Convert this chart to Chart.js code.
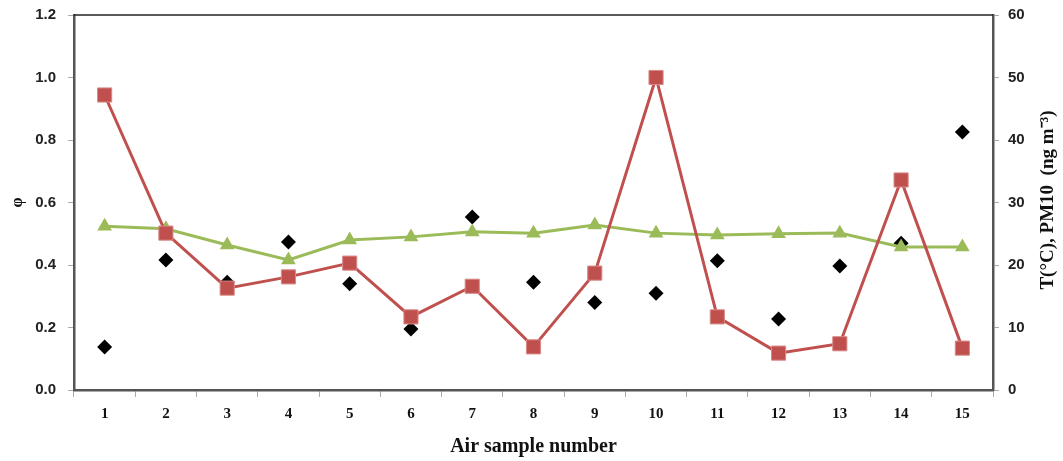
<!DOCTYPE html>
<html>
<head>
<meta charset="utf-8">
<script src="https://cdn.jsdelivr.net/npm/chart.js@4/dist/chart.umd.min.js"></script>
<style>
  html, body { margin: 0; padding: 0; background: #fff; }
  #wrap { width: 1063px; height: 461px; }
</style>
</head>
<body>
<div id="wrap"><canvas id="chart" width="1063" height="461"></canvas></div>
<script>
// Data
const samples = ['1','2','3','4','5','6','7','8','9','10','11','12','13','14','15'];
const phiValues = [0.138, 0.416, 0.345, 0.474, 0.34, 0.195, 0.554, 0.345, 0.28, 0.31, 0.414, 0.227, 0.397, 0.47, 0.826];
const pm10Values = [47.2, 25.1, 16.3, 18.1, 20.3, 11.7, 16.6, 6.9, 18.7, 50.0, 11.7, 5.9, 7.4, 33.6, 6.7];
const tempValues = [26.2, 25.8, 23.2, 20.8, 24.0, 24.5, 25.3, 25.1, 26.4, 25.1, 24.8, 25.0, 25.1, 22.9, 22.9];

const axisColor = '#555';
const tickFont = { family: 'Liberation Sans', size: 15, weight: 'bold' };

// Top frame line and right-hand title (reads bottom to top)
const framePlugin = {
    id: 'frame',
    afterDraw(chart) {
        const { ctx, chartArea } = chart;
        ctx.save();
        ctx.strokeStyle = '#222';
        ctx.lineWidth = 1.5;
        ctx.beginPath();
        ctx.moveTo(chartArea.left, chartArea.top);
        ctx.lineTo(chartArea.right, chartArea.top);
        ctx.stroke();

        ctx.translate(1048, 200);
        ctx.rotate(-Math.PI / 2);
        ctx.fillStyle = '#111';
        ctx.font = 'bold 19px "Liberation Serif"';
        ctx.textAlign = 'center';
        ctx.textBaseline = 'middle';
        ctx.fillText('T(°C), PM10  (ng m⁻³)', 0, 0);
        ctx.restore();
    }
};

// fixed widths, no extra room for label overhang
function fixWidth(w) {
    return s => {
        s.width = w;
        s.paddingTop = 0;
        s.paddingBottom = 0;
    };
}

new Chart(document.getElementById('chart'), {
    type: 'line',
    data: {
        labels: samples,
        datasets: [
            {
                label: 'PM10',
                data: pm10Values,
                yAxisID: 'y1',
                borderColor: '#C0504D',
                backgroundColor: '#C0504D',
                borderWidth: 3,
                pointStyle: 'rect',
                pointRadius: 10,
                pointBorderColor: '#D88A88',
                pointBorderWidth: 1,
                tension: 0,
                order: 0
            },
            {
                label: 'T',
                data: tempValues,
                yAxisID: 'y1',
                borderColor: '#9BBB59',
                backgroundColor: '#9BBB59',
                borderWidth: 3,
                pointStyle: 'triangle',
                pointRadius: 8.5,
                pointBorderWidth: 0,
                tension: 0,
                order: 1
            },
            {
                label: 'phi',
                data: phiValues,
                yAxisID: 'y',
                showLine: false,
                borderColor: '#000',
                backgroundColor: '#000',
                pointStyle: 'rectRot',
                pointRadius: 7.5,
                pointBorderWidth: 0,
                order: 2
            }
        ]
    },
    options: {
        responsive: false,
        animation: false,
        layout: { padding: { top: 15, right: 0, bottom: 0, left: 0 } },
        plugins: {
            legend: { display: false },
            tooltip: { enabled: false }
        },
        scales: {
            x: {
                offset: true,
                afterFit: s => { s.height = 71; },
                border: { color: axisColor, width: 2.5 },
                grid: { drawOnChartArea: false, tickLength: 7, color: '#aaa', offset: true },
                ticks: { color: '#111', padding: 8, font: { family: 'Liberation Serif', size: 15, weight: 'bold' } },
                title: {
                    display: true,
                    text: 'Air sample number',
                    color: '#111',
                    font: { family: 'Liberation Serif', size: 20, weight: 'bold' },
                    padding: { top: 0, bottom: 2 }
                }
            },
            y: {
                position: 'left',
                min: 0,
                max: 1.2,
                afterFit: fixWidth(74),
                border: { color: axisColor, width: 2.5 },
                grid: { drawOnChartArea: false, tickLength: 6, color: '#aaa' },
                ticks: {
                    stepSize: 0.2,
                    color: '#222',
                    padding: 12,
                    font: tickFont,
                    callback: v => v.toFixed(1)
                },
                title: {
                    display: true,
                    text: 'φ',
                    color: '#111',
                    font: { family: 'Liberation Serif', size: 16, weight: 'bold' },
                    padding: { top: 8, bottom: 0 }
                }
            },
            y1: {
                position: 'right',
                min: 0,
                max: 60,
                afterFit: fixWidth(70),
                border: { color: axisColor, width: 2.5 },
                grid: { drawOnChartArea: false, tickLength: 6, color: '#aaa' },
                ticks: { stepSize: 10, color: '#222', padding: 9, font: tickFont }
            }
        }
    },
    plugins: [framePlugin]
});
</script>
</body>
</html>
